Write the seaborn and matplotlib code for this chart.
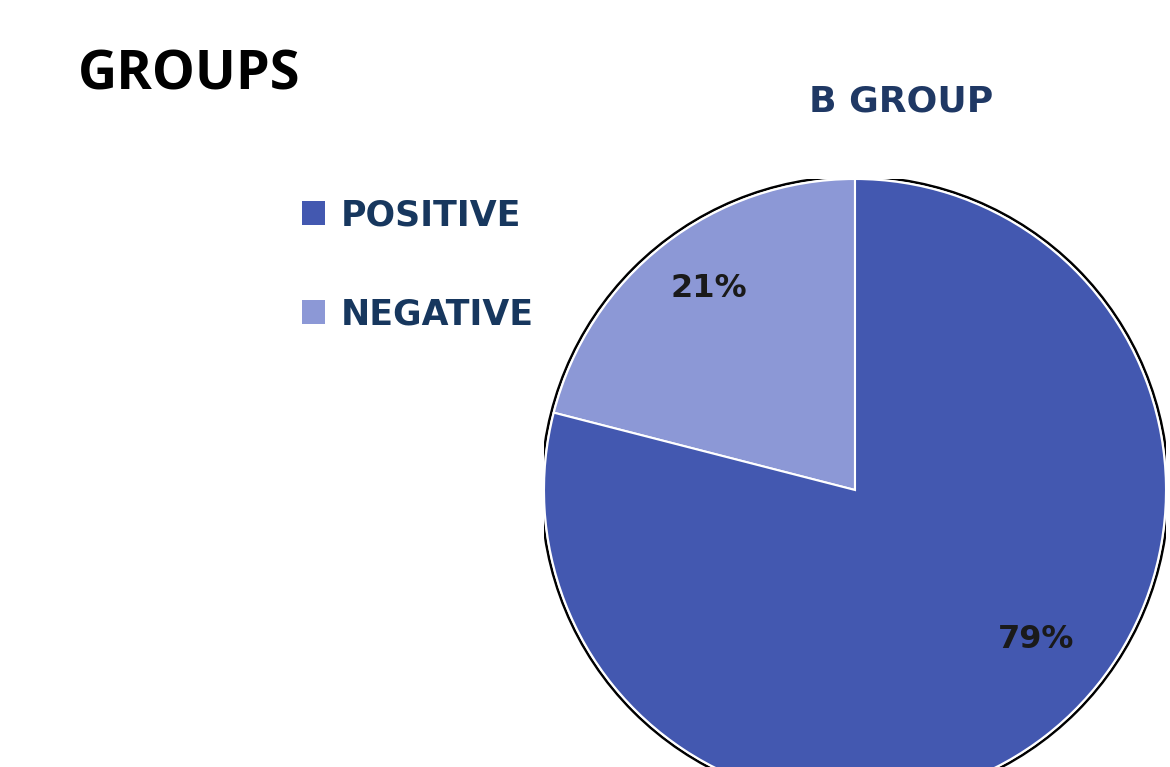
import matplotlib
matplotlib.use("Agg")
import numpy as np
import matplotlib.pyplot as plt
import seaborn as sns
from matplotlib.patches import Patch, Circle

sns.set_theme(style="white")
plt.rcParams['font.family'] = ['DejaVu Sans']

categories = ["POSITIVE", "NEGATIVE"]
values = [79, 21]
colors = ["#4358B0", "#8C98D6"]
chart_title = "GROUPS"
pie_title = "B GROUP"

fig = plt.figure(figsize=(11.70, 7.67), dpi=100)
W, H = 1170, 767
cx, cy, r = 855, 490, 311
ax = fig.add_axes([(cx - r) / W, (H - cy - r) / H, 2 * r / W, 2 * r / H])

# draw NEGATIVE first from 12 o'clock counterclockwise
order = [1, 0]
wedges, texts, autotexts = ax.pie(
    [values[i] for i in order],
    colors=[colors[i] for i in order],
    startangle=90, counterclock=True,
    autopct='%1.0f%%', pctdistance=0.77,
    wedgeprops=dict(edgecolor="white", linewidth=1.5),
    textprops=dict(fontsize=23, color="#1a1a1a", fontweight='bold'),
    radius=1.0,
)
# label placement (angle in degrees, radius fraction) as in the reference
label_pos = [(126, 0.80), (-39.5, 0.755)]
for t, (ang, rr) in zip(autotexts, label_pos):
    a = np.deg2rad(ang)
    t.set_position((rr * np.cos(a), rr * np.sin(a)))

ax.add_patch(Circle((0, 0), 1.008, fill=False, edgecolor="black", linewidth=1.8, zorder=0))
ax.set_xlim(-1, 1)
ax.set_ylim(-1, 1)
ax.set_aspect('equal')
ax.axis('off')

fig.text(78 / W, 1 - 75 / H, chart_title, fontsize=39, fontweight='bold',
         family=['Open Sans', 'DejaVu Sans'], color='black', va='center', ha='left')
fig.text(901 / W, 1 - 102 / H, pie_title, fontsize=26, fontweight='bold',
         color='#1F3864', va='center', ha='center')

handles = [Patch(facecolor=c, edgecolor='none') for c in colors]
leg = fig.legend(handles, categories, loc='upper left',
                 bbox_to_anchor=(302 / W, 1 - 198 / H), frameon=False,
                 prop=dict(size=25, weight='bold'), labelcolor='#17375E',
                 handlelength=0.66, handleheight=0.66, handletextpad=0.45,
                 labelspacing=1.88, borderpad=0, borderaxespad=0)

fig.savefig("out.png", dpi=100)
